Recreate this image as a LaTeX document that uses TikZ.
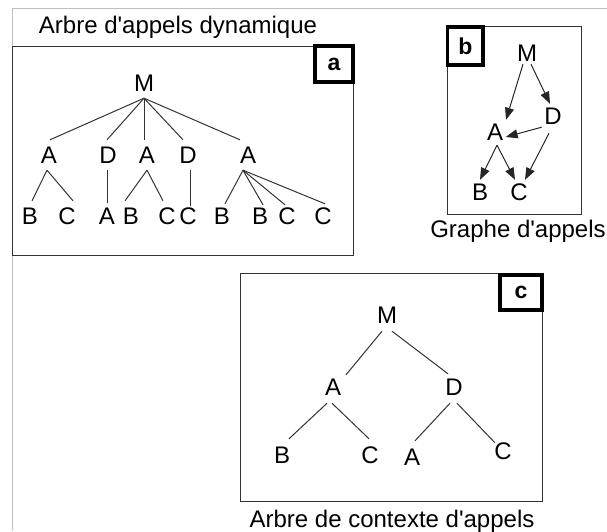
\documentclass[tikz,border=0pt]{standalone}
\usepackage{fontspec}
\setmainfont{Liberation Sans}[Ligatures=TeXOff]
\usetikzlibrary{arrows.meta}
\begin{document}
\begin{tikzpicture}[x=1pt,y=-1pt,
  lbl/.style={font=\fontsize{24}{24}\selectfont, text height=17pt, text depth=0pt, inner sep=6.5pt},
  lblb/.style={lbl, inner sep=2.5pt},
  lblc/.style={lbl, inner sep=7.5pt},
  tagbox/.style={draw=black, line width=3.5pt, font=\fontsize{23}{23}\selectfont\bfseries, inner sep=0pt},
  boxframe/.style={draw=black!80, line width=1pt},
  treeedge/.style={draw=black!80, line width=1pt},
  arr/.style={draw=black!85, line width=1pt, -{Triangle[length=12pt,width=9pt]}},
  capt/.style={font=\fontsize{24}{24}\selectfont, anchor=base, inner sep=0pt}]
\useasboundingbox (0,0) rectangle (607,531);
% outer light frame
\draw[black!25, line width=1.2pt] (12.5,531) -- (12.5,8.5) -- (607,8.5);

% ---------- a ----------
\node[capt] (tA) at (178,33) {Arbre d'appels dynamique};
\draw[boxframe] (12.5,46.5) rectangle (353,255);
\node[tagbox, minimum width=38pt, minimum height=36pt] (ta) at (334,64) {a};
\node[lbl] (aM) at (144,83) {M};
\node[lbl] (a1) at (49,155) {A};
\node[lbl] (a2) at (108,155) {D};
\node[lbl] (a3) at (147,155) {A};
\node[lbl] (a4) at (188,155) {D};
\node[lbl] (a5) at (248,155) {A};
\node[lbl] (b1) at (30,216) {B};
\node[lbl] (b2) at (67,216) {C};
\node[lbl] (b3) at (107,216) {A};
\node[lbl] (b4) at (131,216) {B};
\node[lbl] (b5) at (167,216) {C};
\node[lbl] (b6) at (188,216) {C};
\node[lbl] (b7) at (222,216) {B};
\node[lbl] (b8) at (260,216) {B};
\node[lbl] (b9) at (287,216) {C};
\node[lbl] (b10) at (323,216) {C};
\foreach \c/\s in {a1/1, a2/-1, a3/-3, a4/-5, a5/-8}
  \draw[treeedge] (aM.south) -- ([xshift=\s pt]\c.north);
\draw[treeedge] ([xshift=-2pt]a1.south) -- ([xshift=2pt]b1.north);
\draw[treeedge] ([xshift=-2pt]a1.south) -- ([xshift=6pt]b2.north);
\draw[treeedge] ([xshift=-1pt]a2.south) -- ([yshift=-2pt]b3.north);
\draw[treeedge] (a3.south) -- ([xshift=-6pt]b4.north);
\draw[treeedge] (a3.south) -- ([xshift=-4pt]b5.north);
\draw[treeedge] ([xshift=2pt]a4.south) -- ([xshift=2pt,yshift=-5pt]b6.north);
\draw[treeedge] ([xshift=-5pt]a5.south) -- ([xshift=3pt,yshift=-3pt]b7.north);
\draw[treeedge] ([xshift=-5pt]a5.south) -- ([xshift=3pt,yshift=-4pt]b8.north);
\draw[treeedge] ([xshift=-5pt]a5.south) -- ([xshift=-2pt,yshift=-4pt]b9.north);
\draw[treeedge] ([xshift=-5pt]a5.south) -- ([xshift=2pt,yshift=-3pt]b10.north);

% ---------- b ----------
\draw[boxframe] (447.5,26.5) rectangle (581,214);
\node[tagbox, minimum width=35.5pt, minimum height=38pt] (tb) at (465.3,46) {b};
\node[lblb] (gM) at (527,53) {M};
\node[lblb] (gD) at (553,116) {D};
\node[lblb] (gA) at (495,132) {A};
\node[lblb] (gB) at (480,192) {B};
\node[lblb] (gC) at (519,192) {C};
\draw[arr] ([xshift=-4pt]gM.south) -- ([xshift=11pt,yshift=1pt]gA.north);
\draw[arr] ([xshift=4pt]gM.south) -- ([xshift=-3pt,yshift=1pt]gD.north);
\draw[arr] (gD.south west) -- ([yshift=-5pt]gA.east);
\draw[arr] ([xshift=2pt,yshift=-2pt]gA.south) -- ([yshift=1pt]gB.north);
\draw[arr] ([xshift=2pt,yshift=-2pt]gA.south) -- ([xshift=-4pt,yshift=1pt]gC.north);
\draw[arr] ([xshift=-4pt,yshift=-6pt]gD.south) -- ([xshift=6pt,yshift=1pt]gC.north);
\node[capt] (tB) at (518,237) {Graphe d'appels};

% ---------- c ----------
\draw[boxframe] (240,273.5) rectangle (542.5,501);
\node[tagbox, minimum width=42pt, minimum height=35pt] (tc) at (521,292.5) {c};
\node[lblc] (cM) at (387,315) {M};
\node[lblc] (cA) at (333,387) {A};
\node[lblc] (cD) at (454,387) {D};
\node[lblc] (cB) at (282,455) {B};
\node[lblc] (cC) at (370,455) {C};
\node[lblc] (cA2) at (412,457) {A};
\node[lblc] (cC2) at (503,451) {C};
\draw[treeedge] ([xshift=-5pt]cM.south) -- ([xshift=13pt,yshift=-4pt]cA.north);
\draw[treeedge] ([xshift=5pt]cM.south) -- ([xshift=-6pt,yshift=-3pt]cD.north);
\draw[treeedge] ([xshift=-6pt]cA.south) -- ([xshift=7pt]cB.north);
\draw[treeedge] ([xshift=-1pt]cA.south) -- ([xshift=-1pt]cC.north);
\draw[treeedge] ([xshift=-4pt]cD.south) -- ([xshift=3pt]cA2.north);
\draw[treeedge] ([xshift=3pt]cD.south) -- ([xshift=-8pt,yshift=-8pt]cC2.north);
\node[capt] (tC) at (392,527) {Arbre de contexte d'appels};
\end{tikzpicture}
\end{document}
